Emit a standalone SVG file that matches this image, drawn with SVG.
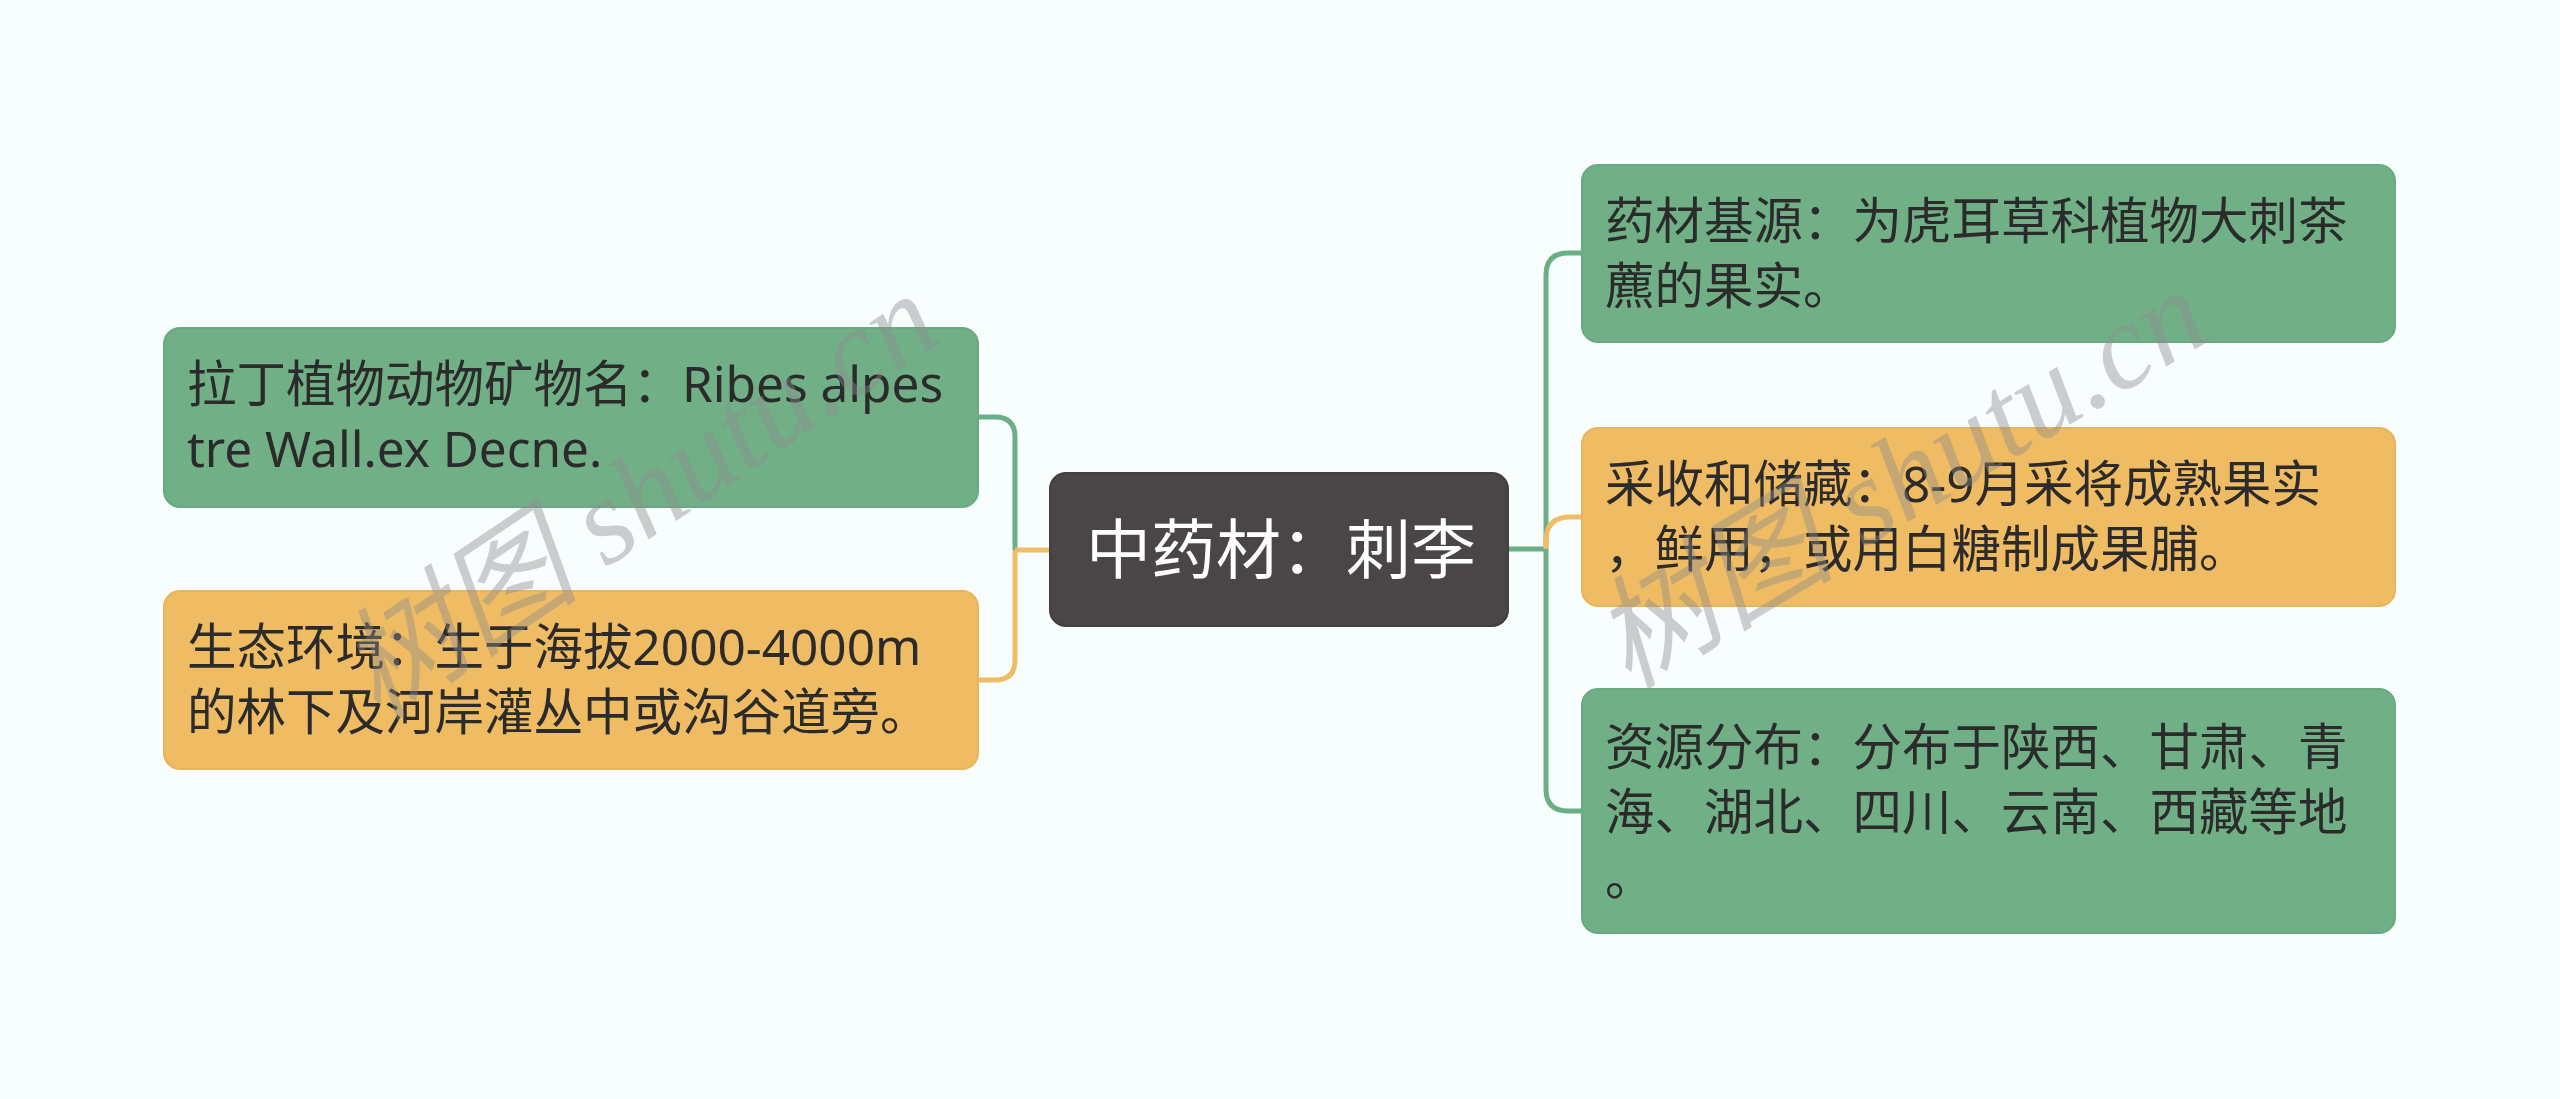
<svg xmlns="http://www.w3.org/2000/svg" width="2560" height="1099" viewBox="0 0 2560 1099">
<style>
.bg{fill:#f8fdfd}
.g{fill:#71b087;stroke:#6aa981;stroke-width:2}
.o{fill:#f0bc63;stroke:#e8b55c;stroke-width:2}
.c{fill:#4a4546;stroke:#433e3f;stroke-width:2}
.t{font-family:"Noto Sans","Noto Sans CJK SC",sans-serif;font-size:49.5px;fill:#2b2b2b}
.ct{font-family:"Noto Sans","Noto Sans CJK SC",sans-serif;font-size:65px;fill:#ffffff}
.lg{fill:none;stroke:#6aaf85;stroke-width:5}
.lo{fill:none;stroke:#efbd64;stroke-width:5}
.wm{font-family:"Liberation Serif","Noto Sans CJK SC",serif;font-style:italic;font-size:122px;fill:#8c8c8c;opacity:0.42}
</style>
<rect class="bg" x="0" y="0" width="2560" height="1099"/>
<g id="connectors">
<path class="lg" d="M978,417 L995,417 Q1015,417 1015,437 L1015,550"/>
<path class="lo" d="M1015,550 L1015,660 Q1015,680 995,680 L978,680"/>
<path class="lo" d="M1015,550 L1050,550"/>
<path class="lg" d="M1508,549 L1546,549"/>
<path class="lg" d="M1582,253 L1568,253 Q1546,253 1546,275 L1546,789 Q1546,811 1568,811 L1582,811"/>
<path class="lo" d="M1546,549 L1546,541 Q1546,517 1570,517 L1582,517"/>
</g>
<g id="center">
<rect class="c" x="1050" y="473" width="458" height="153" rx="16"/>
<text class="ct" x="1281" y="573" text-anchor="middle">中药材：刺李</text>
</g>
<g id="left1">
<rect class="g" x="164" y="328" width="814" height="179" rx="16"/>
<text class="t" x="187" y="402">拉丁植物动物矿物名：Ribes alpes</text>
<text class="t" x="187" y="467">tre Wall.ex Decne.</text>
</g>
<g id="left2">
<rect class="o" x="164" y="591" width="814" height="178" rx="16"/>
<text class="t" x="187" y="665">生态环境：生于海拔2000-4000m</text>
<text class="t" x="187" y="730">的林下及河岸灌丛中或沟谷道旁。</text>
</g>
<g id="right1">
<rect class="g" x="1582" y="165" width="813" height="177" rx="16"/>
<text class="t" x="1605" y="239">药材基源：为虎耳草科植物大刺茶</text>
<text class="t" x="1605" y="304">藨的果实。</text>
</g>
<g id="right2">
<rect class="o" x="1582" y="428" width="813" height="178" rx="16"/>
<text class="t" x="1605" y="502">采收和储藏：8-9月采将成熟果实</text>
<text class="t" x="1605" y="567">，鲜用，或用白糖制成果脯。</text>
</g>
<g id="right3">
<rect class="g" x="1582" y="689" width="813" height="244" rx="16"/>
<text class="t" x="1605" y="765">资源分布：分布于陕西、甘肃、青</text>
<text class="t" x="1605" y="830">海、湖北、四川、云南、西藏等地</text>
<text class="t" x="1605" y="895">。</text>
</g>
<g id="watermarks">
<text class="wm" transform="translate(378,722) rotate(-34)">树图 shutu.cn</text>
<text class="wm" transform="translate(1628,690) rotate(-31)">树图 shutu.cn</text>
</g>
</svg>
